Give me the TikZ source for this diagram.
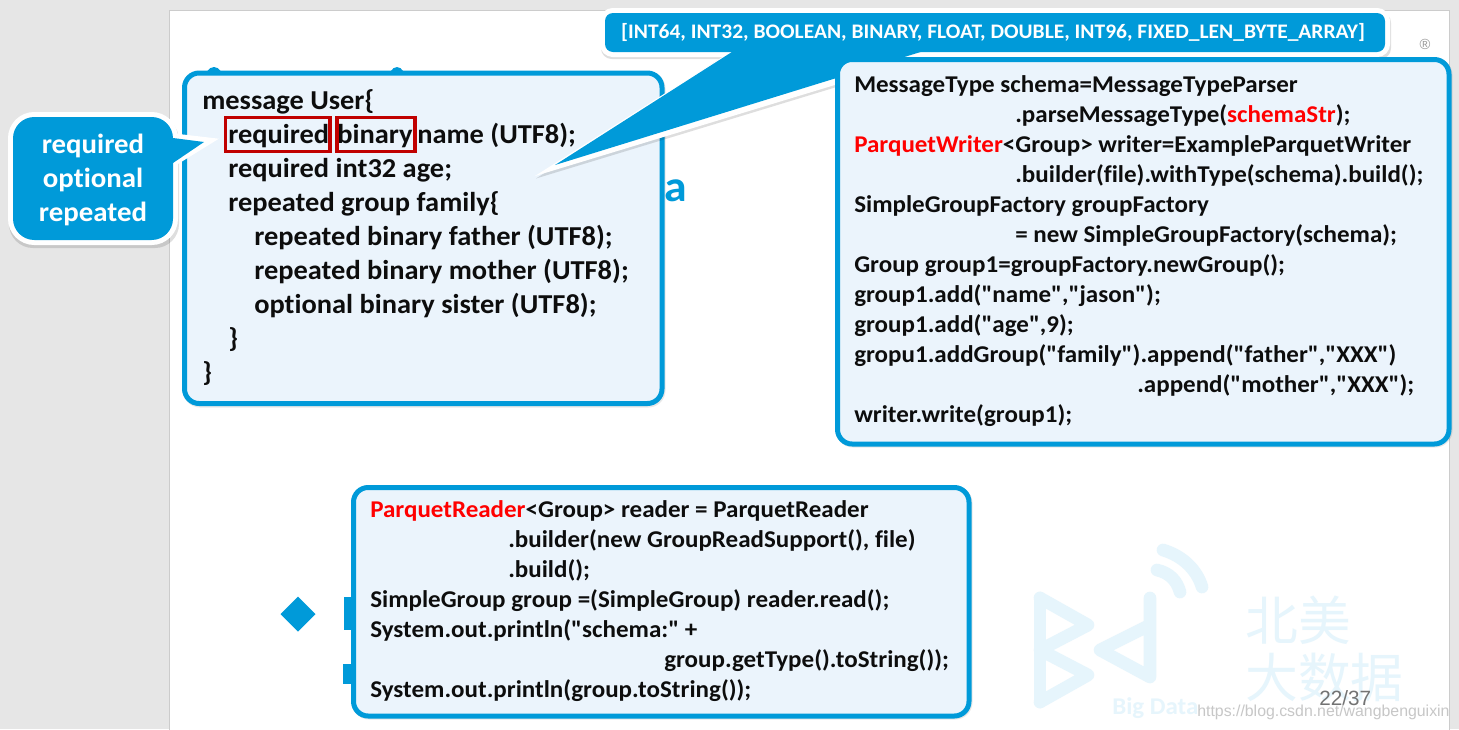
\documentclass[tikz,border=0pt]{standalone}
\usepackage{fontspec}
\setmainfont{Carlito}[FakeStretch=1.04,Ligatures={TeXOff,NoCommon}]
\newfontfamily\cjkfont{Noto Sans CJK SC}
\newfontfamily\arialfont{Liberation Sans}
\definecolor{bluemain}{HTML}{009AD9}
\definecolor{boxfill}{HTML}{EBF4FC}
\definecolor{pagebg}{HTML}{E6E6E6}
\definecolor{pale}{HTML}{E6F5FC}
\definecolor{redbox}{HTML}{C00000}
\definecolor{codered}{HTML}{FF0000}
\definecolor{inkcol}{HTML}{0D0D0D}
\tikzset{
  x=0.75pt,y=-0.75pt,
  softshadow/.style={fill=black,fill opacity=.13,draw=none},
  codebox/.style={draw=bluemain,line width=3.75pt,fill=boxfill,rounded corners=11pt},
  codeshadow/.style={fill=black,fill opacity=.09,draw=black,draw opacity=.09,line width=3.75pt,rounded corners=11pt},
  bigcode/.style={anchor=base west,inner sep=0pt,text=inkcol,font=\fontsize{20.5pt}{23pt}\selectfont\bfseries},
  smallcode/.style={anchor=base west,inner sep=0pt,text=inkcol,font=\fontsize{18.05pt}{20pt}\selectfont\bfseries},
  calltext/.style={anchor=base,inner sep=0pt,text=white,font=\fontsize{20.8pt}{23pt}\selectfont\bfseries},
  redmark/.style={draw=redbox,line width=2.6pt},
  logoline/.style={draw=pale,line width=9.5pt,line cap=round,line join=round},
  palecjk/.style={anchor=base west,inner sep=0pt,text=pale,font=\fontsize{39.6pt}{42pt}\selectfont\cjkfont},
  halo/.style={draw=white,fill=white,line width=7.5pt},
  bluefill/.style={fill=bluemain,draw=none},
}
\newcommand{\rd}[1]{\textcolor{codered}{#1}}
\begin{document}
\begin{tikzpicture}
\useasboundingbox (0,0) rectangle (1459,729);
\fill[pagebg] (0,0) rectangle (1459,729);
\draw[fill=white,draw=black!20,line width=.75pt] (169,10) rectangle (1449,735);
% slide content behind the boxes
\node[anchor=base,inner sep=0pt,text=bluemain,font=\fontsize{33pt}{35pt}\selectfont\bfseries] (lettera) at (676,201) {a};
\fill[bluemain] (214,82) ellipse[x radius=10,y radius=15];
\fill[bluemain] (397,82) ellipse[x radius=9,y radius=15];
\fill[olive!80!black] (1255,62) ellipse[x radius=6,y radius=7];
\fill[olive!80!black] (1292,62) ellipse[x radius=6,y radius=7];
\fill[bluemain] (298,596.5) -- (315.5,614) -- (298,631.5) -- (280.5,614) -- cycle;
\fill[bluemain] (344,597) rectangle (354,630);
\fill[bluemain] (343,664) rectangle (354,684);
\node[inner sep=0pt,text=black!40,font=\fontsize{11pt}{12pt}\selectfont\arialfont] (regmark) at (1425,44) {®};
% watermark
\draw[logoline] (1040,598) -- (1040,702);
\draw[logoline] (1040,598) -- (1088,625) -- (1040,650) -- (1088,675) -- (1040,702);
\draw[logoline] (1150,598) -- (1150,677) -- (1100,650) -- (1150,625);
\draw[logoline] (1157,570) .. controls (1170,573) and (1177,581) .. (1180,592);
\draw[logoline] (1163,550) .. controls (1183,556) and (1197,570) .. (1202,587);
\node[palecjk] (beimei) at (1245,640) {北美};
\node[palecjk] (dashuju) at (1245,697) {大数据};
\node[anchor=base west,inner sep=0pt,text=pale,font=\fontsize{18pt}{20pt}\selectfont\bfseries] (bigdata) at (1112,714) {Big Data};
\node[anchor=base west,inner sep=0pt,text=black!55,font=\fontsize{15.5pt}{17pt}\selectfont\arialfont] (pagenum) at (1319,705) {22/37};
\node[anchor=base west,inner sep=0pt,text=black!22,font=\fontsize{11.9pt}{14pt}\selectfont\arialfont] (urlmark) at (1197,716) {https://blog.csdn.net/wangbenguixin};
% left code box
\path[codeshadow] (185.5,74) rectangle (663,405);
\path[codebox] (184.5,73) rectangle (662,403.5);
\node[bigcode] (l1) at (202,109.5) {message User\{};
\node[bigcode] (l2) at (228,143.5) {required};
\node[bigcode] (l2b) at (337,143.5) {binary};
\node[bigcode] (l2c) at (417,143.5) {name (UTF8);};
\node[bigcode] (l3) at (228,177.5) {required int32 age;};
\node[bigcode] (l4) at (228,211.5) {repeated group family\{};
\node[bigcode] (l5) at (254,245.5) {repeated binary father (UTF8);};
\node[bigcode] (l6) at (254,279.5) {repeated binary mother (UTF8);};
\node[bigcode] (l7) at (254,313.5) {optional binary sister (UTF8);};
\node[bigcode] (l8) at (228,347.5) {\}};
\node[bigcode] (l9) at (202,381.5) {\}};
\draw[redmark] (225.5,117.7) rectangle (329.8,151.3);
\draw[redmark] (336.8,117.7) rectangle (415.2,151.3);
% left callout
\fill[softshadow,rounded corners=18pt] (9,116) rectangle (179,248);
\path[halo,line join=miter] (170,138) -- (204,142) -- (170,163) -- cycle;
\path[halo,rounded corners=16pt] (13,117) rectangle (173,240);
\path[bluefill,rounded corners=16pt] (13,117) rectangle (173,240);
\path[bluefill] (170,138) -- (173,138) -- (204,142) -- (173,163) -- (170,163) -- cycle;
\node[calltext] (r1) at (93,153.5) {required};
\node[calltext] (r2) at (93,187.5) {optional};
\node[calltext] (r3) at (93,221.5) {repeated};
% top callout
\fill[softshadow,rounded corners=8pt] (601,12) rectangle (1391,59);
\fill[softshadow] (730,52) -- (536,178.5) -- (927,59.5) -- (927,50) -- cycle;
\fill[white] (730,52) -- (535,176) -- (927,57) -- (927,50) -- cycle;
\path[halo,rounded corners=6pt] (605,13) rectangle (1385,52);
\path[bluefill,rounded corners=6pt] (605,13) rectangle (1385,52);
\path[bluefill] (735,50) -- (555,165) -- (927,50) -- cycle;
\node[anchor=base,inner sep=0pt,text=white,font=\fontsize{15.5pt}{17pt}\selectfont\bfseries] (types) at (993,38) {[INT64, INT32, BOOLEAN, BINARY, FLOAT, DOUBLE, INT96, FIXED\_LEN\_BYTE\_ARRAY]};
% right code box
\path[codeshadow] (838.5,60.5) rectangle (1450,445);
\path[codebox] (837.5,59.5) rectangle (1449,444);
\node[smallcode] (c1) at (854,92.5) {MessageType schema=MessageTypeParser};
\node[smallcode] (c2) at (1015,122.5) {.parseMessageType(\rd{schemaStr});};
\node[smallcode] (c3) at (854,152.5) {\rd{ParquetWriter}<Group> writer=ExampleParquetWriter};
\node[smallcode] (c4) at (1015,182.5) {.builder(file).withType(schema).build();};
\node[smallcode] (c5) at (854,212.5) {SimpleGroupFactory groupFactory};
\node[smallcode] (c6) at (1015,242.5) {= new SimpleGroupFactory(schema);};
\node[smallcode] (c7) at (854,272.5) {Group group1=groupFactory.newGroup();};
\node[smallcode] (c8) at (854,302.5) {group1.add("name","jason");};
\node[smallcode] (c9) at (854,332.5) {group1.add("age",9);};
\node[smallcode] (c10) at (854,362.5) {gropu1.addGroup("family").append("father","XXX")};
\node[smallcode] (c11) at (1137,392.5) {.append("mother","XXX");};
\node[smallcode] (c12) at (854,422.5) {writer.write(group1);};
% bottom code box
\path[codeshadow] (354.5,488.5) rectangle (970,717);
\path[codebox] (353.5,487.5) rectangle (969,716);
\node[smallcode] (d1) at (370,517.5) {\rd{ParquetReader}<Group> reader = ParquetReader};
\node[smallcode] (d2) at (508,547.5) {.builder(new GroupReadSupport(), file)};
\node[smallcode] (d3) at (508,577.5) {.build();};
\node[smallcode] (d4) at (370,607.5) {SimpleGroup group =(SimpleGroup) reader.read();};
\node[smallcode] (d5) at (370,637.5) {System.out.println("schema:" +};
\node[smallcode] (d6) at (664,667.5) {group.getType().toString());};
\node[smallcode] (d7) at (370,697.5) {System.out.println(group.toString());};
\end{tikzpicture}
\end{document}
